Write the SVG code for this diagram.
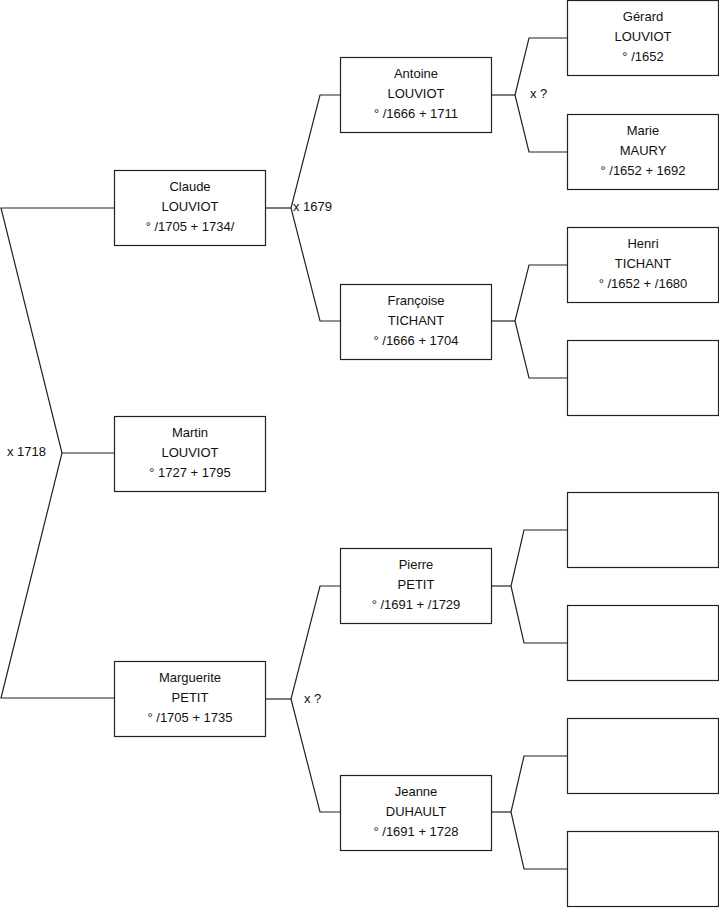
<svg xmlns="http://www.w3.org/2000/svg" width="719" height="908" viewBox="0 0 719 908">
<style>
.b{fill:#fff;stroke:#222;stroke-width:1.2}
.c{fill:none;stroke:#222;stroke-width:1.2}
text{font-family:"Liberation Sans",Arial,sans-serif;font-size:13px;fill:#111}
.m{text-anchor:middle}
</style>
<rect width="719" height="908" fill="#fff"/>
<g id="connectors">
<polyline class="c" points="114,208 1,208 62,453 1,698 114,698"/>
<line class="c" x1="62" y1="453" x2="114" y2="453"/>
<polyline class="c" points="340,95 320,95 291,208 320,321 340,321"/>
<line class="c" x1="265" y1="208" x2="291" y2="208"/>
<polyline class="c" points="340,586 320,586 291,699 320,812 340,812"/>
<line class="c" x1="265" y1="699" x2="291" y2="699"/>
<polyline class="c" points="567,38 529,38 515,95 529,152 567,152"/>
<line class="c" x1="491" y1="95" x2="515" y2="95"/>
<polyline class="c" points="567,265 529,265 515,321 529,378 567,378"/>
<line class="c" x1="491" y1="321" x2="515" y2="321"/>
<polyline class="c" points="567,530 524,530 511,586 524,643 567,643"/>
<line class="c" x1="491" y1="586" x2="511" y2="586"/>
<polyline class="c" points="567,756 524,756 511,812 524,869 567,869"/>
<line class="c" x1="491" y1="812" x2="511" y2="812"/>
<text x="293" y="211">x 1679</text>
<text x="7" y="456">x 1718</text>
<text x="304" y="703">x ?</text>
<text x="530" y="98">x ?</text>
</g>
<g id="claude"><rect class="b" x="114.5" y="170.5" width="151" height="75"/>
<text class="m" x="190" y="191">Claude</text><text class="m" x="190" y="211">LOUVIOT</text><text class="m" x="190" y="231">° /1705 + 1734/</text></g>
<g id="martin"><rect class="b" x="114.5" y="416.5" width="151" height="75"/>
<text class="m" x="190" y="437">Martin</text><text class="m" x="190" y="457">LOUVIOT</text><text class="m" x="190" y="477">° 1727 + 1795</text></g>
<g id="marguerite"><rect class="b" x="114.5" y="661.5" width="151" height="75"/>
<text class="m" x="190" y="682">Marguerite</text><text class="m" x="190" y="702">PETIT</text><text class="m" x="190" y="722">° /1705 + 1735</text></g>
<g id="antoine"><rect class="b" x="340.5" y="57.5" width="151" height="75"/>
<text class="m" x="416" y="78">Antoine</text><text class="m" x="416" y="98">LOUVIOT</text><text class="m" x="416" y="118">° /1666 + 1711</text></g>
<g id="francoise"><rect class="b" x="340.5" y="284.5" width="151" height="75"/>
<text class="m" x="416" y="305">Françoise</text><text class="m" x="416" y="325">TICHANT</text><text class="m" x="416" y="345">° /1666 + 1704</text></g>
<g id="pierre"><rect class="b" x="340.5" y="548.5" width="151" height="75"/>
<text class="m" x="416" y="569">Pierre</text><text class="m" x="416" y="589">PETIT</text><text class="m" x="416" y="609">° /1691 + /1729</text></g>
<g id="jeanne"><rect class="b" x="340.5" y="775.5" width="151" height="75"/>
<text class="m" x="416" y="796">Jeanne</text><text class="m" x="416" y="816">DUHAULT</text><text class="m" x="416" y="836">° /1691 + 1728</text></g>
<g id="gerard"><rect class="b" x="567.5" y="0.5" width="151" height="75"/>
<text class="m" x="643" y="21">Gérard</text><text class="m" x="643" y="41">LOUVIOT</text><text class="m" x="643" y="61">° /1652</text></g>
<g id="marie"><rect class="b" x="567.5" y="114.5" width="151" height="75"/>
<text class="m" x="643" y="135">Marie</text><text class="m" x="643" y="155">MAURY</text><text class="m" x="643" y="175">° /1652 + 1692</text></g>
<g id="henri"><rect class="b" x="567.5" y="227.5" width="151" height="75"/>
<text class="m" x="643" y="248">Henri</text><text class="m" x="643" y="268">TICHANT</text><text class="m" x="643" y="288">° /1652 + /1680</text></g>
<g id="empty1"><rect class="b" x="567.5" y="340.5" width="151" height="75"/></g>
<g id="empty2"><rect class="b" x="567.5" y="492.5" width="151" height="75"/></g>
<g id="empty3"><rect class="b" x="567.5" y="605.5" width="151" height="75"/></g>
<g id="empty4"><rect class="b" x="567.5" y="718.5" width="151" height="75"/></g>
<g id="empty5"><rect class="b" x="567.5" y="831.5" width="151" height="75"/></g>
</svg>
